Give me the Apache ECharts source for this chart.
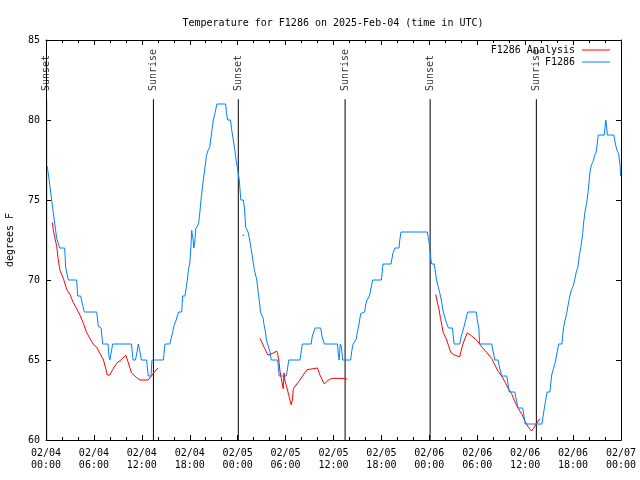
<!DOCTYPE html>
<html><head><meta charset="utf-8">
<script src="https://cdn.jsdelivr.net/npm/echarts@6/dist/echarts.min.js"></script>
<style>html,body{margin:0;padding:0;background:#fff}#c{width:640px;height:480px}</style>
</head><body><div id="c"></div>
<script>
// hours since 2025-02-04 00:00 UTC, temperature in degrees F
const xTickLabels = ['02/04\n00:00','02/04\n06:00','02/04\n12:00','02/04\n18:00','02/05\n00:00','02/05\n06:00','02/05\n12:00','02/05\n18:00','02/06\n00:00','02/06\n06:00','02/06\n12:00','02/06\n18:00','02/07\n00:00'];
const sunEvents = [['Sunset',0.08],['Sunrise',13.45],['Sunset',24.08],['Sunrise',37.45],['Sunset',48.1],['Sunrise',61.4]];
const obs = [[0.16,77.1],[0.38,76.3],[0.71,75.0],[0.92,74.2],[1.13,73.4],[1.34,72.6],[1.71,72.0],[2.34,72.0],[2.46,70.8],[2.8,70.0],[3.84,70.0],[3.97,69.0],[4.34,69.0],[4.6,68.4],[4.8,68.0],[6.35,68.0],[6.55,67.1],[6.9,67.0],[7.0,66.5],[7.1,66.0],[7.76,66.0],[7.9,65.2],[8.0,65.0],[8.2,65.0],[8.35,66.0],[10.7,66.0],[10.9,65.0],[11.2,65.0],[11.4,65.5],[11.56,66.0],[11.77,65.5],[11.95,65.0],[12.6,65.0],[12.8,64.0],[13.15,64.0],[13.27,65.0],[14.7,65.0],[14.9,66.0],[15.5,66.0],[15.85,66.7],[16.0,67.1],[16.3,67.5],[16.6,68.0],[17.0,68.0],[17.1,69.0],[17.4,69.0],[17.55,69.5],[17.7,70.0],[17.85,70.7],[18.0,71.0],[18.15,72.1],[18.25,73.1],[18.3,72.9],[18.4,72.6],[18.5,72.0],[18.6,72.2],[18.75,73.2],[18.9,73.2],[19.1,73.5],[19.3,74.4],[19.45,75.2],[19.7,76.25],[19.9,77.0],[20.1,77.8],[20.3,78.1],[20.5,78.3],[20.7,79.06],[20.95,80.0],[21.15,80.4],[21.4,81.0],[22.5,81.0],[22.6,80.4],[22.75,80.0],[23.1,80.0],[23.25,79.4],[23.45,78.75],[23.65,78.1],[23.8,77.5],[24.0,76.9],[24.2,76.25],[24.3,75.6],[24.4,75.0],[24.7,75.0],[24.85,74.5],[25.0,73.3],[25.3,73.0],[25.5,72.5],[25.7,71.9],[25.9,71.25],[26.1,70.6],[26.4,70.0],[26.55,69.3],[26.7,68.75],[26.8,68.3],[26.85,68.0],[27.05,68.0],[27.2,67.6],[27.3,67.2],[27.5,66.7],[27.6,66.25],[27.75,66.0],[27.97,66.0],[28.05,65.5],[28.2,65.0],[29.0,65.0],[29.1,64.5],[29.2,64.0],[30.1,64.0],[30.25,64.5],[30.4,65.0],[31.8,65.0],[31.95,65.5],[32.1,66.0],[33.2,66.0],[33.35,66.5],[33.7,67.0],[34.4,67.0],[34.55,66.5],[34.85,66.0],[36.5,66.0],[36.6,65.4],[36.7,65.0],[36.85,66.0],[37.0,65.8],[37.15,65.0],[38.15,65.0],[38.3,65.6],[38.45,66.0],[38.7,66.0],[38.85,66.3],[39.0,66.8],[39.2,67.25],[39.4,67.9],[39.6,68.0],[39.9,68.0],[40.05,68.5],[40.2,68.75],[40.5,69.0],[40.7,69.5],[40.9,70.0],[42.0,70.0],[42.2,71.0],[43.2,71.0],[43.45,71.7],[43.7,72.0],[44.2,72.0],[44.3,72.5],[44.45,73.0],[47.75,73.0],[47.85,72.7],[47.98,72.3],[48.1,71.8],[48.2,71.25],[48.3,71.0],[48.6,71.0],[48.7,70.7],[48.9,70.0],[49.1,69.6],[49.3,69.2],[49.5,68.75],[49.75,68.0],[50.0,67.9],[50.15,67.3],[50.4,67.0],[50.9,67.0],[51.0,66.5],[51.1,66.0],[51.8,66.0],[52.0,66.5],[52.3,67.0],[52.55,67.5],[52.8,68.0],[53.9,68.0],[54.0,67.5],[54.2,67.0],[54.3,66.0],[55.8,66.0],[56.0,65.5],[56.2,65.0],[56.6,65.0],[56.8,64.5],[57.06,64.0],[57.7,64.0],[57.85,63.5],[58.0,63.0],[58.7,63.0],[58.9,62.5],[59.1,62.0],[59.7,62.0],[59.85,61.5],[60.0,61.0],[62.1,61.0],[62.25,61.5],[62.4,62.0],[62.6,62.0],[62.75,63.0],[63.1,63.0],[63.3,64.0],[63.5,64.4],[63.75,64.8],[64.0,64.9],[64.2,66.0],[64.6,66.0],[64.8,67.0],[65.0,67.5],[65.2,67.9],[65.4,68.5],[65.6,69.0],[65.8,69.4],[66.0,69.6],[66.2,70.0],[66.4,70.5],[66.6,70.8],[66.8,71.6],[66.99,72.1],[67.2,72.9],[67.3,73.5],[67.5,74.3],[67.7,74.8],[67.9,75.6],[68.1,76.7],[68.3,77.2],[68.5,77.4],[68.7,77.8],[68.9,78.0],[69.15,79.06],[69.9,79.06],[70.1,80.0],[70.3,79.06],[71.1,79.06],[71.3,78.5],[71.5,78.1],[71.7,77.9],[71.9,77.1],[71.95,76.5]];
const analysis1 = [[0.8,73.6],[0.92,73.1],[1.13,72.6],[1.34,72.1],[1.54,71.25],[1.75,70.6],[1.96,70.5],[2.17,70.1],[2.6,69.4],[3.0,69.1],[3.4,68.6],[3.84,68.2],[4.26,67.8],[4.67,67.3],[5.1,66.7],[5.9,66.0],[6.35,65.8],[6.76,65.4],[7.2,65.0],[7.68,64.06],[8.0,64.06],[8.35,64.4],[8.85,64.8],[9.5,65.05],[10.0,65.3],[10.2,65.0],[10.7,64.2],[11.35,63.9],[11.77,63.75],[12.8,63.75],[13.2,64.0],[13.5,64.2],[14.0,64.5]];
const analysis2 = [[24.6,72.8],[24.8,72.8]];
const analysis3 = [[26.8,66.35],[27.0,66.25],[27.4,65.7],[27.8,65.3],[28.3,65.4],[28.9,65.56],[29.0,65.4],[29.2,64.8],[29.3,64.3],[29.55,63.6],[29.7,63.2],[29.8,64.2],[29.9,63.75],[30.1,63.4],[30.4,62.8],[30.55,62.5],[30.7,62.2],[30.85,62.5],[30.97,63.2],[31.4,63.5],[31.8,63.75],[32.2,64.06],[32.7,64.4],[33.3,64.44],[34.0,64.5],[34.3,64.06],[34.85,63.5],[35.35,63.75],[35.8,63.85],[37.2,63.85],[37.7,63.8]];
const analysis4 = [[48.8,69.1],[49.0,68.6],[49.2,68.2],[49.4,67.6],[49.6,67.1],[49.75,66.7],[50.1,66.35],[50.4,65.9],[50.7,65.46],[51.2,65.3],[51.8,65.2],[52.2,66.0],[52.75,66.7],[53.3,66.5],[54.0,66.2],[54.6,65.8],[55.2,65.46],[55.8,65.1],[56.2,64.7],[56.6,64.3],[57.06,64.0],[57.5,63.6],[57.9,63.2],[58.3,62.9],[58.7,62.4],[59.1,62.0],[59.6,61.6],[60.0,61.15],[60.4,60.8],[60.8,60.56],[61.0,60.7],[61.4,61.0],[61.7,61.25],[61.9,61.3]];

const FONT = 'DejaVu Sans Mono';
const SUN_TOP = 81.3, SUN_LABEL = 81.75;
const chart = echarts.init(document.getElementById('c'), null, {renderer:'canvas'});
const axisCommon = {
  axisLine:{show:true, onZero:false, lineStyle:{color:'#000', width:1}},
  axisTick:{show:true, inside:true, length:5, lineStyle:{color:'#000'}},
  splitLine:{show:false}
};
const series = [];
sunEvents.forEach(e => {
  series.push({type:'line', data:[[e[1],60],[e[1],SUN_TOP]], symbol:'none', silent:true,
    lineStyle:{color:'#000', width:1}, z:1});
});
series.push({type:'scatter', data: sunEvents.map(e => [e[1], SUN_LABEL, e[0]]), symbolSize:1,
  itemStyle:{color:'transparent'}, silent:true,
  label:{show:true, position:'inside', rotate:90, align:'left', verticalAlign:'middle', offset:[1,0],
    formatter: p => p.data[2], fontFamily:FONT, fontSize:10, color:'#000'}});
[analysis1, analysis2, analysis3, analysis4].forEach(a => {
  series.push({name:'F1286 Analysis', type:'line', data:a, symbol:'none', lineStyle:{color:'#ff0000', width:1}, itemStyle:{color:'#ff0000'}, z:3});
});
series.push({name:'F1286', type:'line', data:obs, symbol:'none', lineStyle:{color:'#0080ff', width:1}, itemStyle:{color:'#0080ff'}, z:4});

chart.setOption({
  animation:false,
  backgroundColor:'#fff',
  title:{text:'Temperature for F1286 on 2025-Feb-04 (time in UTC)', left:328, top:13, textAlign:'center',
    textStyle:{fontFamily:FONT, fontSize:10, fontWeight:'normal', color:'#000'}},
  legend:{data:['F1286 Analysis','F1286'], orient:'vertical', right:30, top:44, padding:0, align:'right',
    icon:'rect', itemWidth:28, itemHeight:1, itemGap:0, textStyle:{fontFamily:FONT, fontSize:10, color:'#000', lineHeight:12, padding:[0,2,0,0]}},
  grid:{left:46, right:19, top:40, bottom:40, containLabel:false, outerBoundsMode:'none'},
  xAxis:[
    Object.assign({type:'value', min:0, max:72, interval:6, position:'bottom',
      minorTick:{show:true, splitNumber:3, length:3, lineStyle:{color:'#000'}},
      axisLabel:{formatter: v => xTickLabels[Math.round(v/6)], fontFamily:FONT, fontSize:10, color:'#000', lineHeight:12, margin:7}}, axisCommon),
    Object.assign({type:'value', min:0, max:72, interval:6, position:'top',
      minorTick:{show:true, splitNumber:3, length:3, lineStyle:{color:'#000'}},
      axisLabel:{show:false}}, axisCommon)
  ],
  yAxis:[
    Object.assign({type:'value', min:60, max:85, interval:5, position:'left',
      name:'degrees F', nameLocation:'middle', nameGap:31, nameRotate:90,
      nameTextStyle:{fontFamily:FONT, fontSize:10, color:'#000'},
      axisLabel:{fontFamily:FONT, fontSize:10, color:'#000', margin:6}}, axisCommon),
    Object.assign({type:'value', min:60, max:85, interval:5, position:'right',
      axisLabel:{show:false}}, axisCommon)
  ],
  series: series
});
</script></body></html>
